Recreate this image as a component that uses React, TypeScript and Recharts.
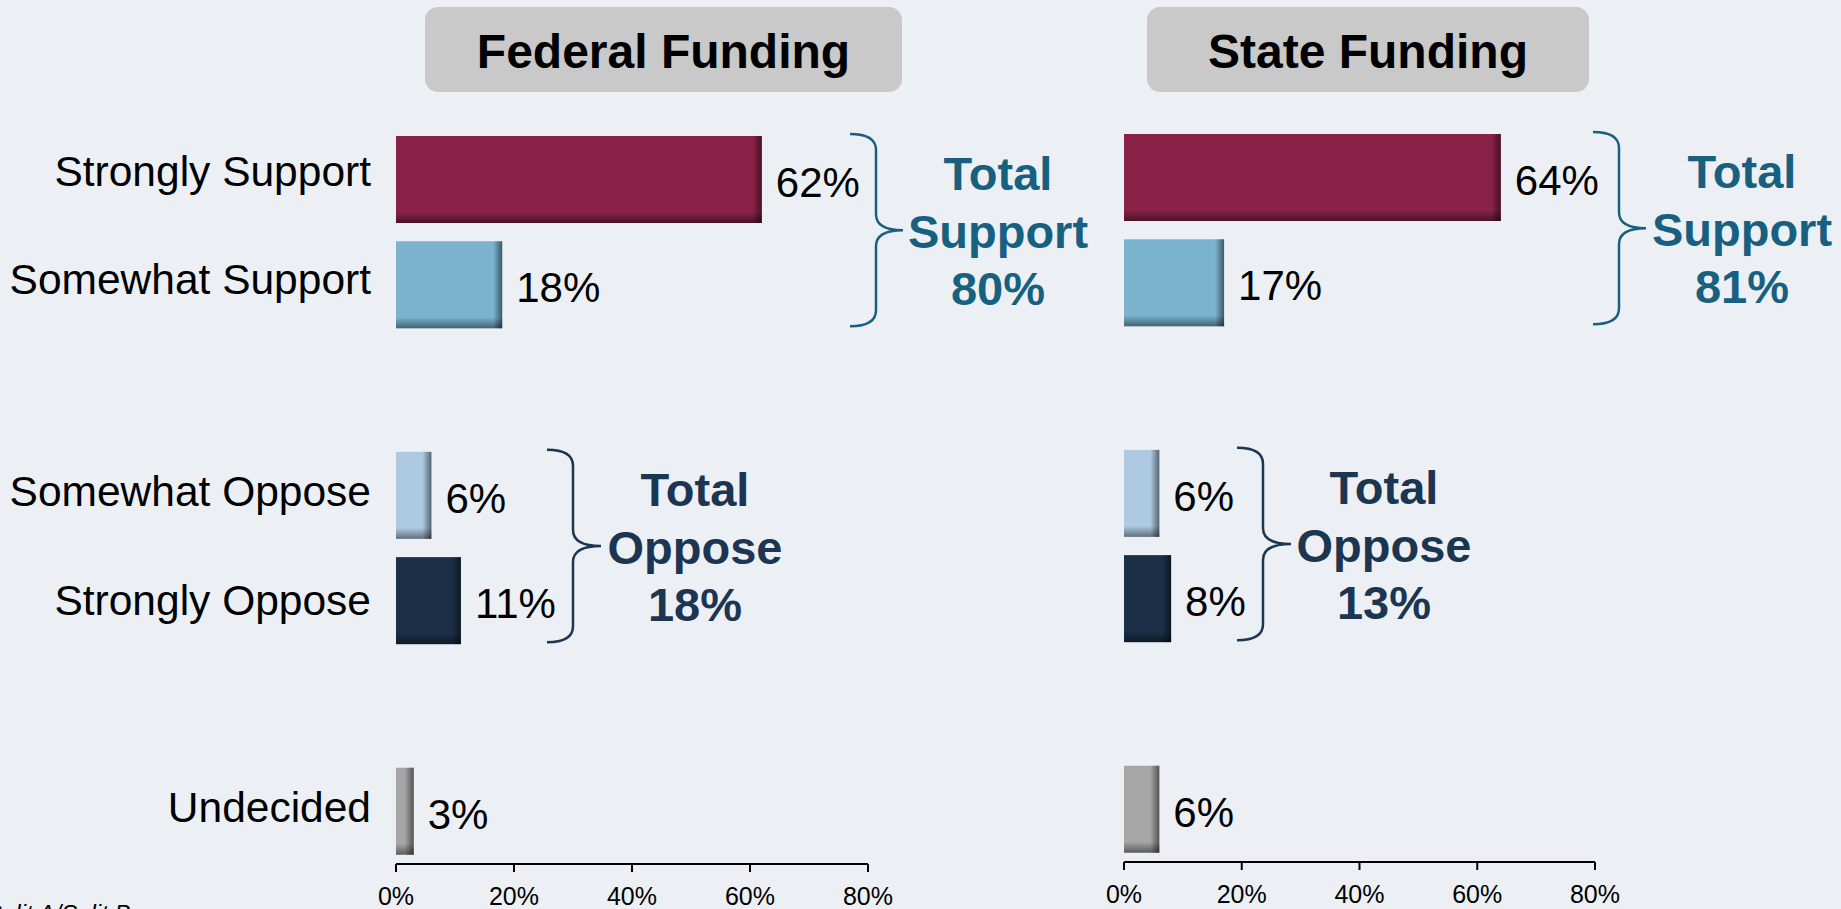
import React from "react";
import { Bar, BarChart, Cell, LabelList, XAxis, YAxis } from "recharts";

const categories = [
  "Strongly Support",
  "Somewhat Support",
  "gap-1",
  "Somewhat Oppose",
  "Strongly Oppose",
  "gap-2",
  "Undecided",
];
const federalValues = [62, 18, null, 6, 11, null, 3];
const stateValues = [64, 17, null, 6, 8, null, 6];
const barColors = ["#8a2147", "#7bb3ce", "none", "#aecae3", "#1b2f47", "none", "#a6a6a6"];
const xTicks = [0, 20, 40, 60, 80];

const panelTitles = ["Federal Funding", "State Funding"];
const federalTotals = [80, 18];
const stateTotals = [81, 13];
const totalWords = ["Support", "Oppose"];
const totalColors = ["#176080", "#1c3550"];

const FONT = '"Liberation Sans", Arial, Helvetica, sans-serif';
const W = 1841;
const H = 909;
const AXIS_H = 45;
const BAR = 87;
const BG = "#ecf0f5";
// the category labels in the original sit a little above their bars, not evenly
const labelNudge = [-9, -6, 0, -5, -1, 0, -4];

type Frame = {
  left: number;
  width: number;
  plotLeft: number;
  plotRight: number;
  plotTop: number;
  plotBottom: number;
  title: { x: number; w: number };
  // brace: ends x, vertical x, tip x, text centre x  (support, oppose)
  braces: { x0: number; xv: number; tip: number; cx: number }[];
};

const FED: Frame = {
  left: 0,
  width: 920,
  plotLeft: 396,
  plotRight: 868,
  plotTop: 127,
  plotBottom: 864,
  title: { x: 425, w: 477 },
  braces: [
    { x0: 850, xv: 876, tip: 903, cx: 998 },
    { x0: 547, xv: 573, tip: 601, cx: 695 },
  ],
};

const STATE: Frame = {
  left: 920,
  width: 921,
  plotLeft: 1124,
  plotRight: 1595,
  plotTop: 125,
  plotBottom: 862,
  title: { x: 1147, w: 442 },
  braces: [
    { x0: 1593, xv: 1619, tip: 1646, cx: 1742 },
    { x0: 1237, xv: 1263, tip: 1291, cx: 1384 },
  ],
};

function barTop(f: Frame, row: number) {
  const band = (f.plotBottom - f.plotTop) / categories.length;
  return f.plotTop + row * band + Math.floor((band - BAR) / 2);
}

function ShadedBar(props: any) {
  const { x, y, width, height, fill, gid } = props;
  if (!width || width <= 0 || !height || fill === "none") return <g />;
  const edgeW = Math.min(9, width * 0.5);
  const edgeH = 11;
  return (
    <g>
      <rect x={x} y={y} width={width} height={height} fill={fill} />
      <rect x={x + width - edgeW} y={y} width={edgeW} height={height} fill={`url(#${gid}-r)`} />
      <rect x={x} y={y + height - edgeH} width={width} height={edgeH} fill={`url(#${gid}-b)`} />
    </g>
  );
}

function CategoryTick(props: any) {
  const { x, y, payload, index } = props;
  if (String(payload.value).startsWith("gap")) return <g />;
  const nudge = labelNudge[index] ?? -6;
  return (
    <text x={x} y={y + 15 + nudge} textAnchor="end" fontSize={42.5} fontFamily={FONT} fill="#000">
      {payload.value}
    </text>
  );
}

function PercentTick(props: any) {
  const { x, y, payload } = props;
  return (
    <text x={x} y={y + 33} textAnchor="middle" fontSize={25} fontFamily={FONT} fill="#000">
      {`${payload.value}%`}
    </text>
  );
}

function ValueLabel(props: any) {
  const { x, y, width, height, value } = props;
  if (value == null) return null;
  return (
    <text
      x={x + width + 14}
      y={y + height / 2 + 17.5}
      fontSize={42}
      fontFamily={FONT}
      fill="#000"
    >
      {`${value}%`}
    </text>
  );
}

function FundingChart({
  values,
  frame,
  showCategories,
  gid,
}: {
  values: (number | null)[];
  frame: Frame;
  showCategories: boolean;
  gid: string;
}) {
  const data = categories.map((name, i) => ({ name, value: values[i] }));
  const yAxisW = frame.plotLeft - frame.left;
  return (
    <div style={{ position: "absolute", left: frame.left, top: 0 }}>
      <BarChart
        width={frame.width}
        height={H}
        data={data}
        layout="vertical"
        barSize={BAR}
        margin={{
          top: frame.plotTop,
          right: frame.left + frame.width - frame.plotRight,
          bottom: H - frame.plotBottom - AXIS_H,
          left: showCategories ? 0 : yAxisW,
        }}
      >
        <defs>
          <linearGradient id={`${gid}-r`} x1="0" y1="0" x2="1" y2="0">
            <stop offset="0%" stopColor="#000" stopOpacity={0} />
            <stop offset="100%" stopColor="#000" stopOpacity={0.5} />
          </linearGradient>
          <linearGradient id={`${gid}-b`} x1="0" y1="0" x2="0" y2="1">
            <stop offset="0%" stopColor="#000" stopOpacity={0} />
            <stop offset="100%" stopColor="#000" stopOpacity={0.45} />
          </linearGradient>
        </defs>
        <XAxis
          type="number"
          domain={[0, 80]}
          ticks={xTicks}
          interval={0}
          height={AXIS_H}
          axisLine={{ stroke: "#000", strokeWidth: 2 }}
          tickLine={{ stroke: "#000", strokeWidth: 2 }}
          tickSize={8}
          tickMargin={0}
          tick={PercentTick}
        />
        {showCategories ? (
          <YAxis
            type="category"
            dataKey="name"
            width={yAxisW}
            interval={0}
            axisLine={false}
            tickLine={false}
            tickSize={0}
            tickMargin={25}
            tick={CategoryTick}
          />
        ) : (
          <YAxis type="category" dataKey="name" hide />
        )}
        <Bar
          dataKey="value"
          isAnimationActive={false}
          shape={(p: any) => <ShadedBar {...p} gid={gid} />}
        >
          {data.map((_, i) => (
            <Cell key={i} fill={barColors[i]} />
          ))}
          <LabelList dataKey="value" content={ValueLabel} />
        </Bar>
      </BarChart>
    </div>
  );
}

function Brace({ frame, group }: { frame: Frame; group: number }) {
  const rows = group === 0 ? [0, 1] : [3, 4];
  const top = barTop(frame, rows[0]) - 2;
  const bottom = barTop(frame, rows[1]) + BAR - 2;
  const mid = (top + bottom) / 2;
  const { x0, xv, tip } = frame.braces[group];
  const r = 16;
  const d = [
    `M${x0},${top}`,
    `Q${xv},${top} ${xv},${top + r}`,
    `L${xv},${mid - r}`,
    `Q${xv},${mid} ${tip},${mid}`,
    `Q${xv},${mid} ${xv},${mid + r}`,
    `L${xv},${bottom - r}`,
    `Q${xv},${bottom} ${x0},${bottom}`,
  ].join(" ");
  return <path d={d} fill="none" stroke={totalColors[group]} strokeWidth={2.5} />;
}

function TotalText({ frame, group, total }: { frame: Frame; group: number; total: number }) {
  const rows = group === 0 ? [0, 1] : [3, 4];
  const top = barTop(frame, rows[0]) - 2;
  const bottom = barTop(frame, rows[1]) + BAR - 2;
  const mid = (top + bottom) / 2;
  const lines = ["Total", totalWords[group], `${total}%`];
  const offs = [-40, 18, 75];
  return (
    <g>
      {lines.map((t, i) => (
        <text
          key={i}
          x={frame.braces[group].cx}
          y={mid + offs[i]}
          textAnchor="middle"
          fontSize={47}
          fontWeight="bold"
          fontFamily={FONT}
          fill={totalColors[group]}
        >
          {t}
        </text>
      ))}
    </g>
  );
}

export default function App() {
  const frames = [FED, STATE];
  const totals = [federalTotals, stateTotals];
  return (
    <div style={{ position: "relative", width: W, height: H, background: BG, overflow: "hidden" }}>
      <style>{`html,body{margin:0;padding:0;overflow:hidden;background:${BG};}`}</style>
      <FundingChart values={federalValues} frame={FED} showCategories gid="fed" />
      <FundingChart values={stateValues} frame={STATE} showCategories={false} gid="state" />
      <svg
        width={W}
        height={H}
        style={{ position: "absolute", left: 0, top: 0, pointerEvents: "none" }}
      >
        {frames.map((f, i) => (
          <g key={i}>
            <rect x={f.title.x} y={7} width={f.title.w} height={85} rx={13} fill="#c9c9c9" />
            <text
              x={f.title.x + f.title.w / 2}
              y={68}
              textAnchor="middle"
              fontSize={48}
              fontWeight="bold"
              fontFamily={FONT}
              fill="#000"
            >
              {panelTitles[i]}
            </text>
            {[0, 1].map((g) => (
              <g key={g}>
                <Brace frame={f} group={g} />
                <TotalText frame={f} group={g} total={totals[i][g]} />
              </g>
            ))}
          </g>
        ))}
        <text x={-14} y={922} fontSize={24} fontStyle="italic" fontFamily={FONT} fill="#000">
          Split A/Split B
        </text>
      </svg>
    </div>
  );
}
